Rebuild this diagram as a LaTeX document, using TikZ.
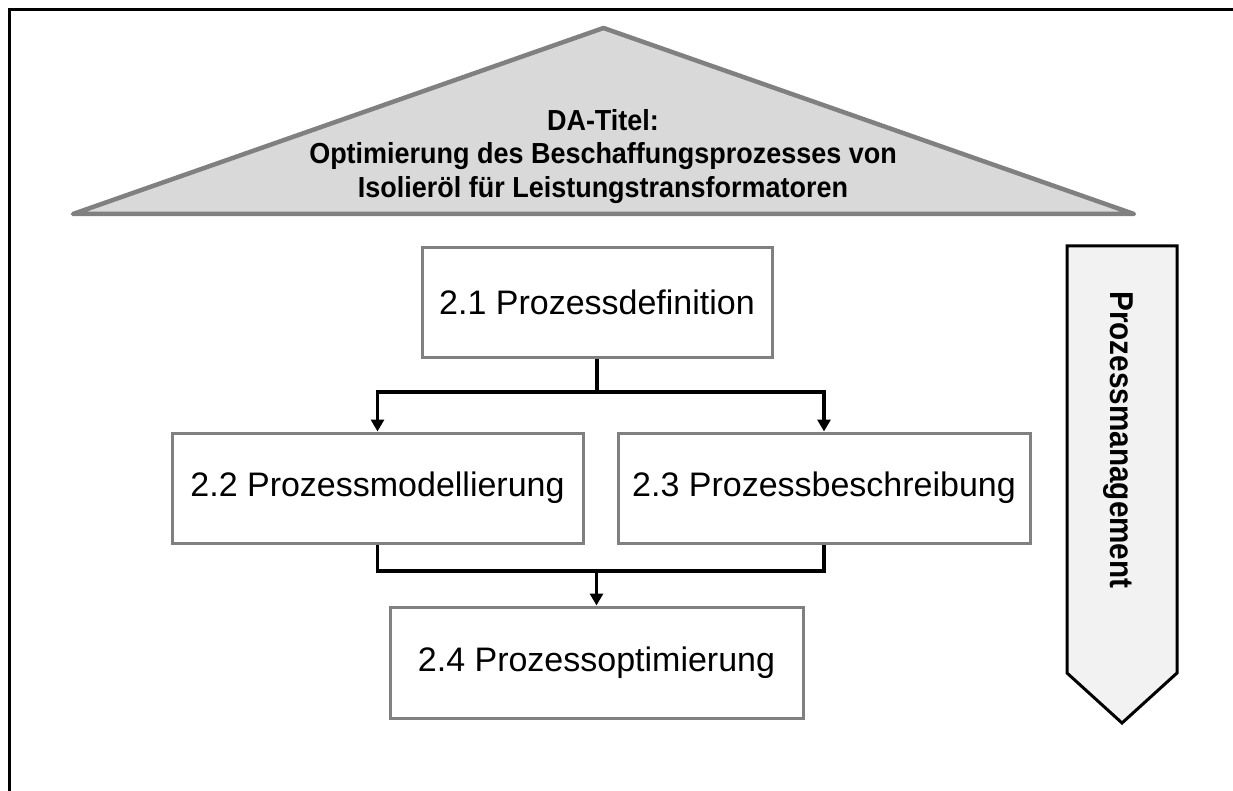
\documentclass[tikz,border=0pt]{standalone}
\usepackage{fontspec}
\setmainfont{Liberation Sans}
\usetikzlibrary{arrows.meta}
\definecolor{boxgray}{HTML}{808080}
\definecolor{roofgray}{HTML}{D9D9D9}
\definecolor{bandfill}{HTML}{F2F2F2}
% slightly condensed bold lettering
\newcommand{\narrowtext}[2]{\scalebox{#1}[1]{#2}}

\begin{document}
\begin{tikzpicture}[x=1pt,y=-1pt,
  stepbox/.style={draw=boxgray, line width=3pt, fill=white, inner sep=0pt,
    font=\fontsize{34}{40}\selectfont},
  conn/.style={line width=3.5pt, black},
  arr/.style={conn, -{Triangle[width=13pt,length=12pt]}},
  roof/.style={draw=boxgray, fill=roofgray, line width=4.5pt, line join=round},
  band/.style={draw=black, fill=bandfill, line width=3pt},
  frameline/.style={line width=3pt, black},
]
\useasboundingbox (0,0) rectangle (1233,791);

% outer frame (top and left edges)
\coordinate (frameBL) at (9,791);
\coordinate (frameTL) at (9,10);
\coordinate (frameTR) at (1233,10);
\draw[frameline] (frameBL) -- (frameTL) -- (frameTR);

% roof with the thesis title
\coordinate (roofL) at (73,214);
\coordinate (roofT) at (603.5,28);
\coordinate (roofR) at (1134,214);
\draw[roof] (roofL) -- (roofT) -- (roofR) -- cycle;
\node[inner sep=0pt, align=center, font=\bfseries\fontsize{29}{33.5}\selectfont]
  (title) at (603,156.5)
  {\narrowtext{0.93}{DA-Titel:}\\
   \narrowtext{0.93}{Optimierung des Beschaffungsprozesses von}\\
   \narrowtext{0.93}{Isolieröl für Leistungstransformatoren}};

% process steps
\node[stepbox, minimum width=350pt, minimum height=109pt] (d21) at (597,302.5) {2.1 Prozessdefinition};
\node[stepbox, minimum width=411pt, minimum height=110pt] (d22) at (377.5,488) {2.2 Prozessmodellierung};
\node[stepbox, minimum width=412pt, minimum height=110pt] (d23) at (824,488) {2.3 Prozessbeschreibung};
\node[stepbox, minimum width=413pt, minimum height=111pt] (d24) at (596.5,662.5) {2.4 Prozessoptimierung};

% connectors
\coordinate (split) at (597,392);
\coordinate (join) at (596.5,571);
\draw[conn] (d21.south) -- (split);
\draw[arr] (split) -| (d22.north);
\draw[arr] (split) -| (d23.north);
\draw[conn] (d22.south) |- (join) -| (d23.south);
\draw[arr] (join) -- (d24.north);

% process management band
\coordinate (bandTL) at (1067,246);
\coordinate (bandTR) at (1177,246);
\coordinate (bandR) at (1177,673);
\coordinate (bandTip) at (1122,723);
\coordinate (bandL) at (1067,673);
\draw[band] (bandTL) -- (bandTR) -- (bandR) -- (bandTip) -- (bandL) -- cycle;
\node[rotate=-90, anchor=base, inner sep=0pt, font=\bfseries\fontsize{33}{38}\selectfont]
  (pm) at (1110,440) {\narrowtext{0.9}{Prozessmanagement}};
\end{tikzpicture}
\end{document}
